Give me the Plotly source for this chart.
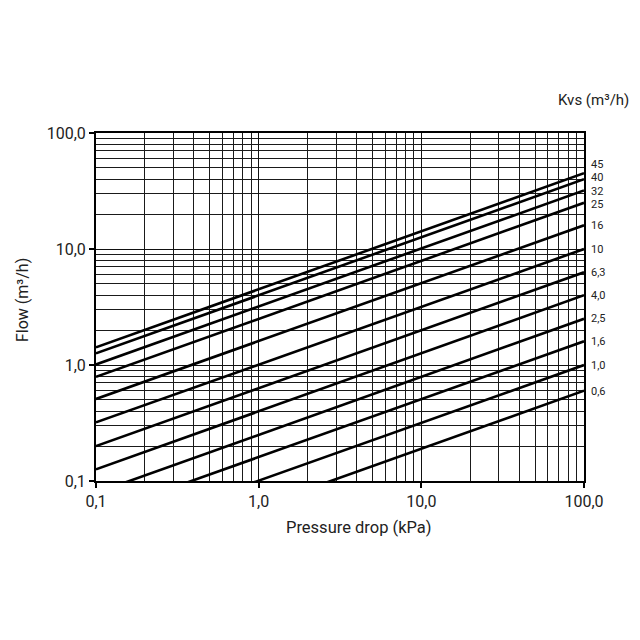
import plotly.graph_objects as go
import math

# Data
kvs_values = [45, 40, 32, 25, 16, 10, 6.3, 4.0, 2.5, 1.6, 1.0, 0.6]
kvs_labels = ["45", "40", "32", "25", "16", "10", "6,3", "4,0", "2,5", "1,6", "1,0", "0,6"]
dp_ends = [0.1, 100.0]  # kPa
flow_at_min_dp = [1.42, 1.26, 1.01, 0.79, 0.51, 0.32, 0.2, 0.126, 0.079, 0.051, 0.032, 0.019]
flow_at_max_dp = [45, 40, 32, 25, 16, 10, 6.3, 4.0, 2.5, 1.6, 1.0, 0.6]
label_shift = [9, 2, -1, -2, 0, 0, 0, 0, 0, 0, 0, -1]

major_vals = [0.1, 1, 10, 100]
major_text = ["0,1", "1,0", "10,0", "100,0"]
minor_vals = [d * m for d in [0.1, 1, 10] for m in range(2, 10)]

FONT = "Roboto, DejaVu Sans, sans-serif"
TXT = "#222222"

fig = go.Figure()
for kv, f0, f1 in zip(kvs_values, flow_at_min_dp, flow_at_max_dp):
    fig.add_trace(go.Scatter(
        x=dp_ends, y=[f0, f1], mode="lines",
        line=dict(color="black", width=2.6),
        showlegend=False, hoverinfo="skip", name=str(kv)))

axis_common = dict(
    type="log", tickvals=major_vals, ticktext=major_text,
    showgrid=True, gridcolor="#111111", gridwidth=1.4,
    ticks="outside", ticklen=5, tickwidth=1.5, tickcolor="black",
    showline=True, linecolor="black", linewidth=2, mirror=True,
    tickfont=dict(family=FONT, size=16, color=TXT),
    minor=dict(tickvals=minor_vals, showgrid=True, gridcolor="#1a1a1a",
               gridwidth=1.25, ticks=""),
    zeroline=False,
)
fig.update_xaxes(range=[-1, 2], **axis_common)
fig.update_yaxes(range=[-1, 2], **axis_common)

for kv, lab, sh in zip(kvs_values, kvs_labels, label_shift):
    fig.add_annotation(x=1.0, xref="paper", xanchor="left", xshift=6,
                       y=math.log10(kv), yref="y", yanchor="middle", yshift=sh,
                       text=lab, showarrow=False, borderpad=0,
                       font=dict(family=FONT, size=11, color=TXT))

fig.add_annotation(x=(593 - 96) / 488, y=(481 - 100) / 348, xref="paper", yref="paper",
                   text="Kvs (m³/h)", showarrow=False,
                   xanchor="center", yanchor="middle",
                   font=dict(family=FONT, size=15, color=TXT))
fig.add_annotation(x=(359 - 96) / 488, y=(481 - 527) / 348, xref="paper", yref="paper",
                   text="Pressure drop (kPa)", showarrow=False,
                   xanchor="center", yanchor="middle",
                   font=dict(family=FONT, size=16.5, color=TXT))
fig.add_annotation(x=(22 - 96) / 488, y=(481 - 300) / 348, xref="paper", yref="paper",
                   text="Flow (m³/h)", showarrow=False, textangle=-90,
                   xanchor="center", yanchor="middle",
                   font=dict(family=FONT, size=16, color=TXT))

fig.update_layout(
    width=640, height=640,
    margin=dict(l=96, r=56, t=133, b=159),
    plot_bgcolor="white", paper_bgcolor="white",
)
fig.write_html("out.html")
